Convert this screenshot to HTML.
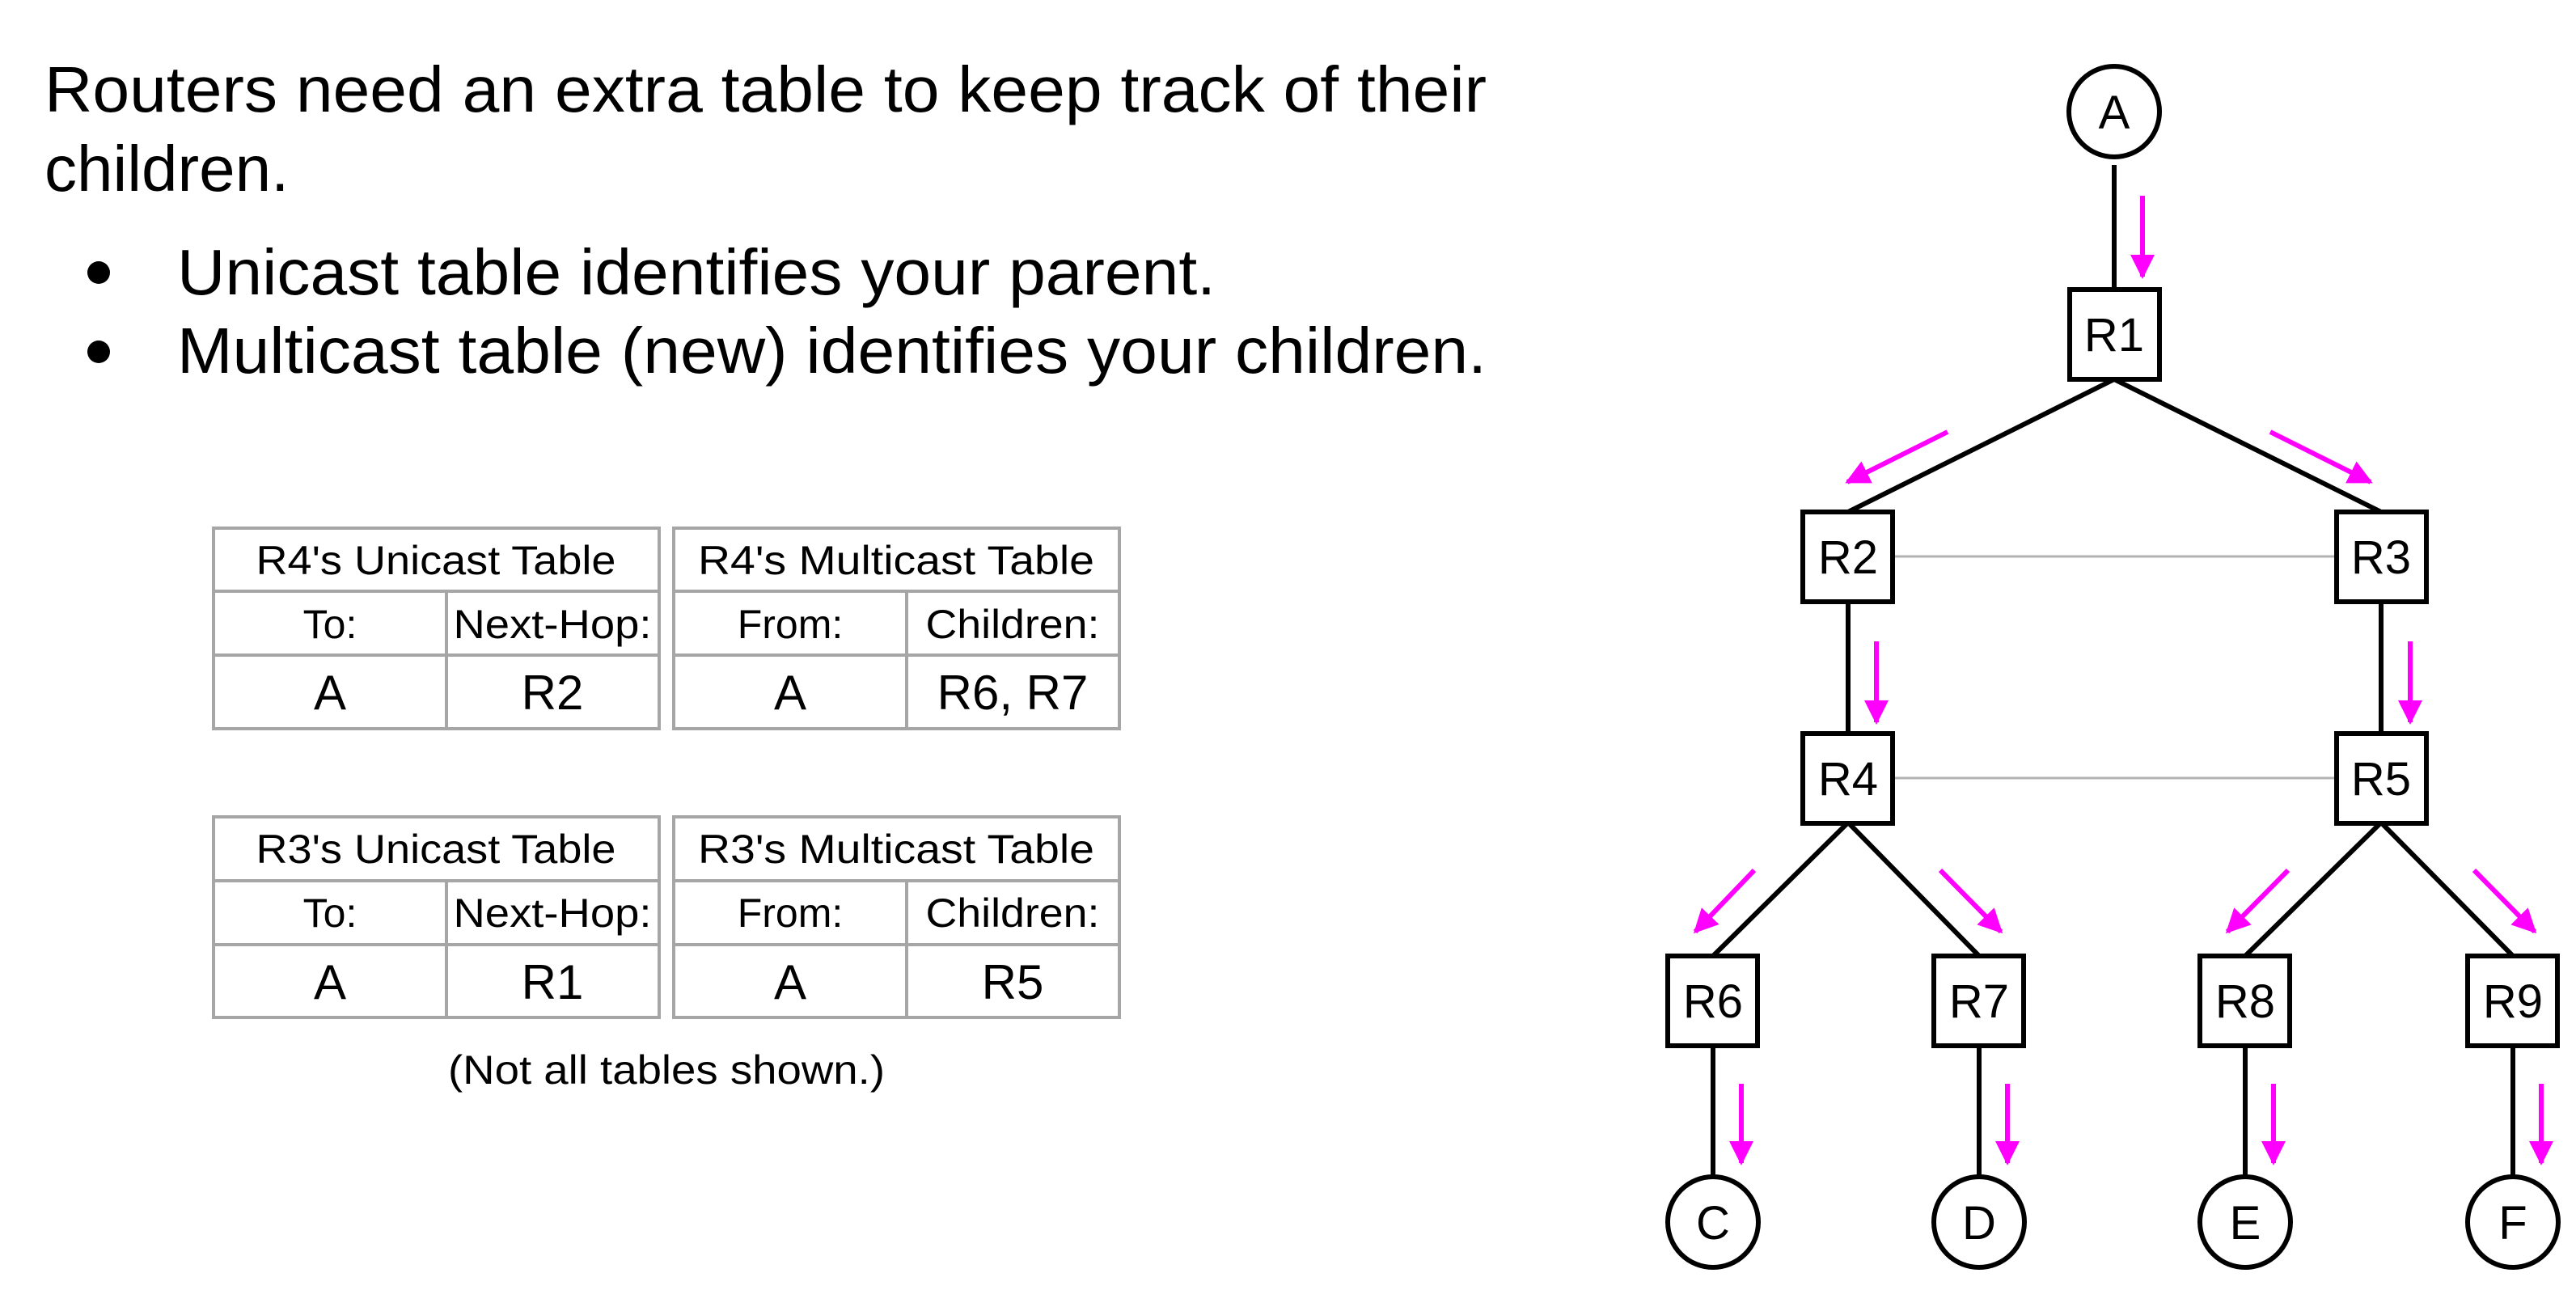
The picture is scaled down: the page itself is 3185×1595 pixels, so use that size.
<!DOCTYPE html>
<html><head><meta charset="utf-8"><style>
html,body{margin:0;padding:0;background:#fff;}
svg{display:block;}
text{font-family:"Liberation Sans",Arial,sans-serif;fill:#000;}
</style></head><body>
<svg width="3185" height="1595" viewBox="0 0 3185 1595" xmlns="http://www.w3.org/2000/svg">
<defs>
<marker id="ah" markerWidth="5" markerHeight="5" refX="4.5" refY="2.5" orient="auto" markerUnits="strokeWidth">
<path d="M0,0 L5,2.5 L0,5 z" fill="#ff00ff"/>
</marker>
</defs>
<!-- title text -->
<text x="55" y="138" font-size="80" textLength="1783" lengthAdjust="spacingAndGlyphs">Routers need an extra table to keep track of their</text>
<text x="55" y="236" font-size="80">children.</text>
<circle cx="122" cy="337" r="14"/>
<circle cx="122" cy="435" r="14"/>
<text x="219" y="364" font-size="80" textLength="1284" lengthAdjust="spacingAndGlyphs">Unicast table identifies your parent.</text>
<text x="219" y="461" font-size="80" textLength="1619" lengthAdjust="spacingAndGlyphs">Multicast table (new) identifies your children.</text>

<!-- tables -->
<g fill="none" stroke="#a6a6a6" stroke-width="4">
<rect x="264" y="653" width="551" height="248"/>
<line x1="264" y1="731" x2="815" y2="731"/><line x1="264" y1="810" x2="815" y2="810"/>
<line x1="552" y1="731" x2="552" y2="901"/>
<rect x="833" y="653" width="551" height="248"/>
<line x1="833" y1="731" x2="1384" y2="731"/><line x1="833" y1="810" x2="1384" y2="810"/>
<line x1="1121" y1="731" x2="1121" y2="901"/>
<rect x="264" y="1010" width="551" height="248"/>
<line x1="264" y1="1089" x2="815" y2="1089"/><line x1="264" y1="1168" x2="815" y2="1168"/>
<line x1="552" y1="1089" x2="552" y2="1258"/>
<rect x="833" y="1010" width="551" height="248"/>
<line x1="833" y1="1089" x2="1384" y2="1089"/><line x1="833" y1="1168" x2="1384" y2="1168"/>
<line x1="1121" y1="1089" x2="1121" y2="1258"/>
</g>
<g font-size="50" text-anchor="middle">
<text x="539" y="710" textLength="445" lengthAdjust="spacingAndGlyphs">R4's Unicast Table</text>
<text x="1108" y="710" textLength="490" lengthAdjust="spacingAndGlyphs">R4's Multicast Table</text>
<text x="408" y="789">To:</text>
<text x="683" y="789" textLength="245" lengthAdjust="spacingAndGlyphs">Next-Hop:</text>
<text x="977" y="789">From:</text>
<text x="1252" y="789" textLength="215" lengthAdjust="spacingAndGlyphs">Children:</text>
<text x="539" y="1067" textLength="445" lengthAdjust="spacingAndGlyphs">R3's Unicast Table</text>
<text x="1108" y="1067" textLength="490" lengthAdjust="spacingAndGlyphs">R3's Multicast Table</text>
<text x="408" y="1146">To:</text>
<text x="683" y="1146" textLength="245" lengthAdjust="spacingAndGlyphs">Next-Hop:</text>
<text x="977" y="1146">From:</text>
<text x="1252" y="1146" textLength="215" lengthAdjust="spacingAndGlyphs">Children:</text>
<text x="824" y="1340" textLength="540" lengthAdjust="spacingAndGlyphs">(Not all tables shown.)</text>
</g>
<g font-size="60" text-anchor="middle">
<text x="408" y="877">A</text>
<text x="683" y="877">R2</text>
<text x="977" y="877">A</text>
<text x="1252" y="877">R6, R7</text>
<text x="408" y="1235">A</text>
<text x="683" y="1235">R1</text>
<text x="977" y="1235">A</text>
<text x="1252" y="1235">R5</text>
</g>

<!-- graph grey links -->
<g stroke="#b3b3b3" stroke-width="3">
<line x1="2340" y1="688" x2="2889" y2="688"/>
<line x1="2340" y1="962" x2="2889" y2="962"/>
</g>
<!-- black edges -->
<g stroke="#000" stroke-width="6" fill="none">
<line x1="2614" y1="204" x2="2614" y2="357"/>
<line x1="2614" y1="469" x2="2285" y2="633"/>
<line x1="2614" y1="469" x2="2944" y2="633"/>
<line x1="2285" y1="743" x2="2285" y2="907"/>
<line x1="2944" y1="743" x2="2944" y2="907"/>
<line x1="2285" y1="1017" x2="2118" y2="1182"/>
<line x1="2285" y1="1017" x2="2447" y2="1182"/>
<line x1="2944" y1="1017" x2="2776" y2="1182"/>
<line x1="2944" y1="1017" x2="3107" y2="1182"/>
<line x1="2118" y1="1292" x2="2118" y2="1455"/>
<line x1="2447" y1="1292" x2="2447" y2="1455"/>
<line x1="2776" y1="1292" x2="2776" y2="1455"/>
<line x1="3107" y1="1292" x2="3107" y2="1455"/>
</g>
<!-- nodes -->
<g stroke="#000" stroke-width="6" fill="#fff">
<circle cx="2614" cy="138" r="56"/>
<rect x="2559" y="358" width="111" height="111"/>
<rect x="2229" y="633" width="111" height="111"/>
<rect x="2889" y="633" width="111" height="111"/>
<rect x="2229" y="907" width="111" height="111"/>
<rect x="2889" y="907" width="111" height="111"/>
<rect x="2062" y="1182" width="111" height="111"/>
<rect x="2391" y="1182" width="111" height="111"/>
<rect x="2720" y="1182" width="111" height="111"/>
<rect x="3051" y="1182" width="111" height="111"/>
<circle cx="2118" cy="1511" r="56"/>
<circle cx="2447" cy="1511" r="56"/>
<circle cx="2776" cy="1511" r="56"/>
<circle cx="3107" cy="1511" r="56"/>
</g>
<g font-size="58" text-anchor="middle">
<text x="2614" y="159">A</text>
<text x="2614" y="434">R1</text>
<text x="2285" y="709">R2</text>
<text x="2944" y="709">R3</text>
<text x="2285" y="983">R4</text>
<text x="2944" y="983">R5</text>
<text x="2118" y="1258">R6</text>
<text x="2447" y="1258">R7</text>
<text x="2776" y="1258">R8</text>
<text x="3107" y="1258">R9</text>
<text x="2118" y="1532">C</text>
<text x="2447" y="1532">D</text>
<text x="2776" y="1532">E</text>
<text x="3107" y="1532">F</text>
</g>
<!-- magenta arrows -->
<g stroke="#ff00ff" stroke-width="6" marker-end="url(#ah)">
<line x1="2649" y1="242" x2="2649" y2="342"/>
<line x1="2408" y1="534" x2="2284" y2="596"/>
<line x1="2807" y1="534" x2="2931" y2="596"/>
<line x1="2320" y1="793" x2="2320" y2="893"/>
<line x1="2980" y1="793" x2="2980" y2="893"/>
<line x1="2169" y1="1076" x2="2096" y2="1152"/>
<line x1="2399" y1="1076" x2="2474" y2="1152"/>
<line x1="2829" y1="1076" x2="2754" y2="1152"/>
<line x1="3059" y1="1076" x2="3134" y2="1152"/>
<line x1="2153" y1="1340" x2="2153" y2="1438"/>
<line x1="2482" y1="1340" x2="2482" y2="1438"/>
<line x1="2811" y1="1340" x2="2811" y2="1438"/>
<line x1="3142" y1="1340" x2="3142" y2="1438"/>
</g>
</svg>
</body></html>
